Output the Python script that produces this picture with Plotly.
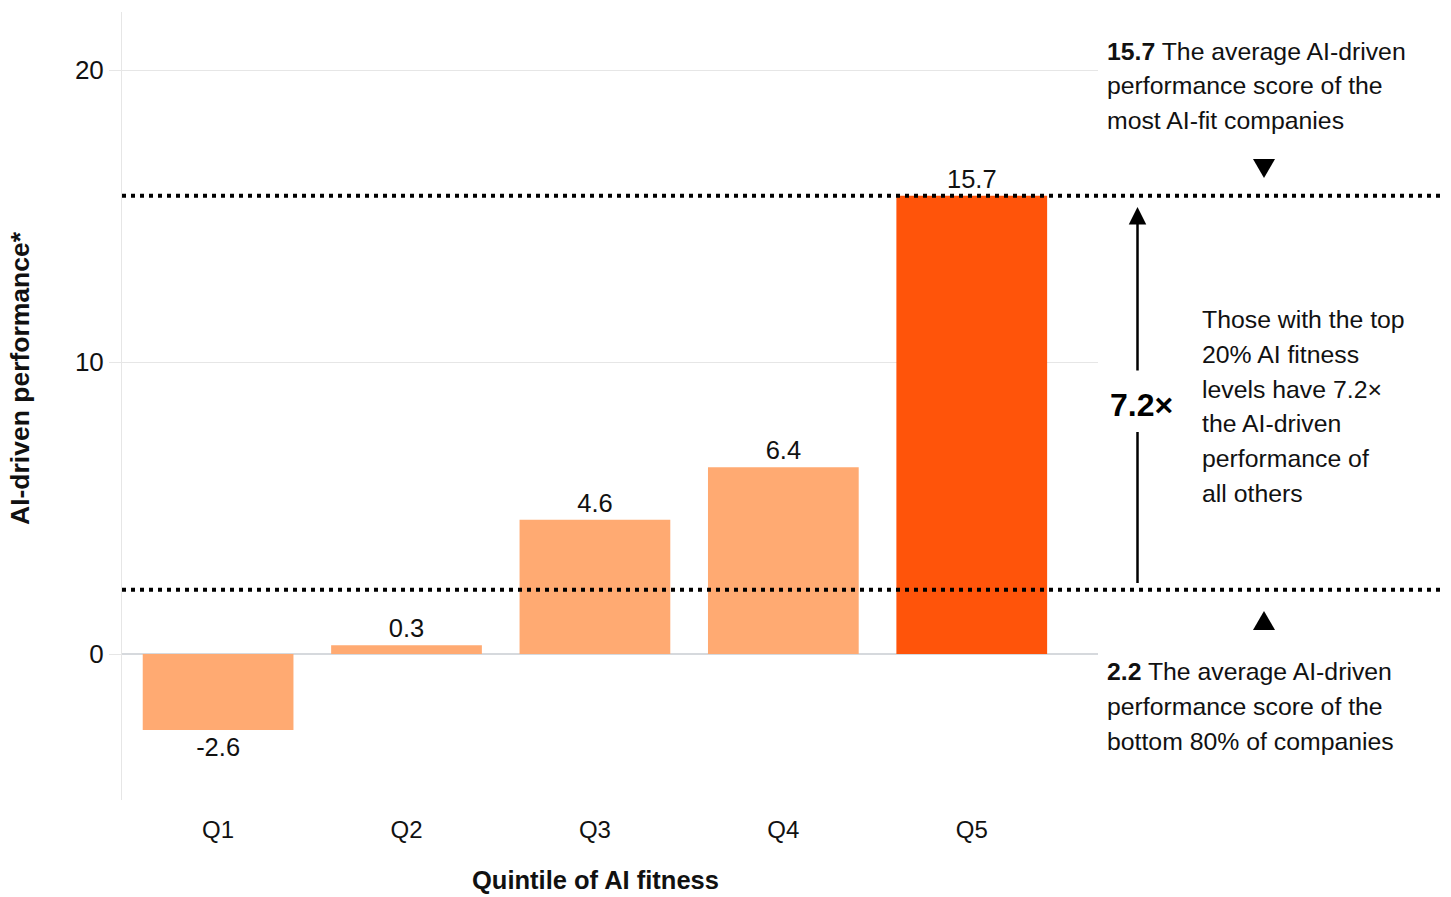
import plotly.graph_objects as go

# ---- data ----
quintiles = ["Q1", "Q2", "Q3", "Q4", "Q5"]
performance = [-2.6, 0.3, 4.6, 6.4, 15.7]
bar_colors = ["#ffaa72", "#ffaa72", "#ffaa72", "#ffaa72", "#ff540a"]
top_avg = 15.7
bottom_avg = 2.2
ratio_label = "7.2×"
y_ticks = [0, 10, 20]

top_note = ["<b>15.7</b> The average AI-driven", "performance score of the", "most AI-fit companies"]
bottom_note = ["<b>2.2</b> The average AI-driven", "performance score of the", "bottom 80% of companies"]
side_note = ["Those with the top", "20% AI fitness", "levels have 7.2×", "the AI-driven", "performance of", "all others"]

W, H = 1451, 897
L, R, T, B = 122, 1098, 12, 800
FONT = "Liberation Sans, Arial, sans-serif"
NOTE_SIZE = 24.8


def px(xp):
    return (xp - L) / (R - L)


def py(yp):
    return (B - yp) / (B - T)


fig = go.Figure()
fig.add_trace(go.Bar(
    x=list(range(len(quintiles))), y=performance,
    marker=dict(color=bar_colors, line=dict(width=0)),
    texttemplate="%{y:.1f}", textposition="outside",
    textfont=dict(size=25.5, color="#111", family=FONT),
    cliponaxis=False, width=0.8, hoverinfo="skip",
))

shapes = []
for v in (top_avg, bottom_avg):
    shapes.append(dict(type="line", xref="paper", yref="y", x0=0, x1=px(1441), y0=v, y1=v,
                       line=dict(color="black", width=4, dash="4px,5px"), layer="above"))
# lower arrow segment
shapes.append(dict(type="line", xref="paper", yref="paper", x0=px(1137.5), x1=px(1137.5),
                   y0=py(583), y1=py(432), line=dict(color="black", width=2.5)))


def tri(xc, ytip, ybase, half=11):
    return dict(type="path", xref="paper", yref="paper",
                path=f"M {px(xc-half)} {py(ybase)} L {px(xc+half)} {py(ybase)} L {px(xc)} {py(ytip)} Z",
                fillcolor="black", line=dict(width=0))


shapes.append(tri(1264, 178, 159))
shapes.append(tri(1264, 611, 630))

annotations = []
annotations.append(dict(xref="paper", yref="paper", x=px(1137.5), y=py(207), ax=0, ay=372 - 207,
                        text="", showarrow=True, arrowhead=2, arrowsize=1.4, arrowwidth=2.5,
                        arrowcolor="black", standoff=0, startstandoff=0))
annotations.append(dict(xref="paper", yref="paper", x=px(1141), y=py(405), text=f"<b>{ratio_label}</b>",
                        showarrow=False, xanchor="center", yanchor="middle",
                        font=dict(size=32, color="black", family=FONT)))
for i, line in enumerate(top_note):
    annotations.append(dict(xref="paper", yref="paper", x=px(1105), y=py(51 + 34.6 * i), text=line,
                            showarrow=False, xanchor="left", yanchor="middle",
                            font=dict(size=NOTE_SIZE, color="#111", family=FONT)))
for i, line in enumerate(bottom_note):
    annotations.append(dict(xref="paper", yref="paper", x=px(1105), y=py(671 + 35 * i), text=line,
                            showarrow=False, xanchor="left", yanchor="middle",
                            font=dict(size=NOTE_SIZE, color="#111", family=FONT)))
for i, line in enumerate(side_note):
    annotations.append(dict(xref="paper", yref="paper", x=px(1200), y=py(320 + 34.6 * i), text=line,
                            showarrow=False, xanchor="left", yanchor="middle",
                            font=dict(size=NOTE_SIZE, color="#111", family=FONT)))
annotations.append(dict(xref="paper", yref="paper", x=px(595), y=py(880), text="<b>Quintile of AI fitness</b>",
                        showarrow=False, xanchor="center", yanchor="middle",
                        font=dict(size=25.5, color="#111", family=FONT)))
annotations.append(dict(xref="paper", yref="paper", x=px(20), y=py(378), text="<b>AI-driven performance*</b>",
                        showarrow=False, xanchor="center", yanchor="middle", textangle=-90,
                        font=dict(size=26.5, color="#111", family=FONT)))

fig.update_layout(
    width=W, height=H,
    margin=dict(l=L, r=W - R, t=T, b=H - B, pad=0),
    paper_bgcolor="white", plot_bgcolor="white",
    showlegend=False,
    font=dict(family=FONT, size=22, color="#111"),
    xaxis=dict(tickmode="array", tickvals=list(range(len(quintiles))), ticktext=quintiles,
               range=[-0.51, 4.67], showgrid=False, zeroline=False, showline=False, ticks="",
               tickfont=dict(size=24, color="#111"), ticklabelstandoff=13),
    yaxis=dict(range=[-5, 22], tickvals=y_ticks, showgrid=True, gridcolor="#e6e6e6", gridwidth=1,
               zeroline=True, zerolinecolor="#d6d9dd", zerolinewidth=2,
               showline=True, linecolor="#e6e6e6", linewidth=1,
               ticks="outside", ticklen=12, tickcolor="#e6e6e6", tickwidth=1,
               tickfont=dict(size=26, color="#111")),
    shapes=shapes, annotations=annotations,
)

fig.write_html("out.html")
